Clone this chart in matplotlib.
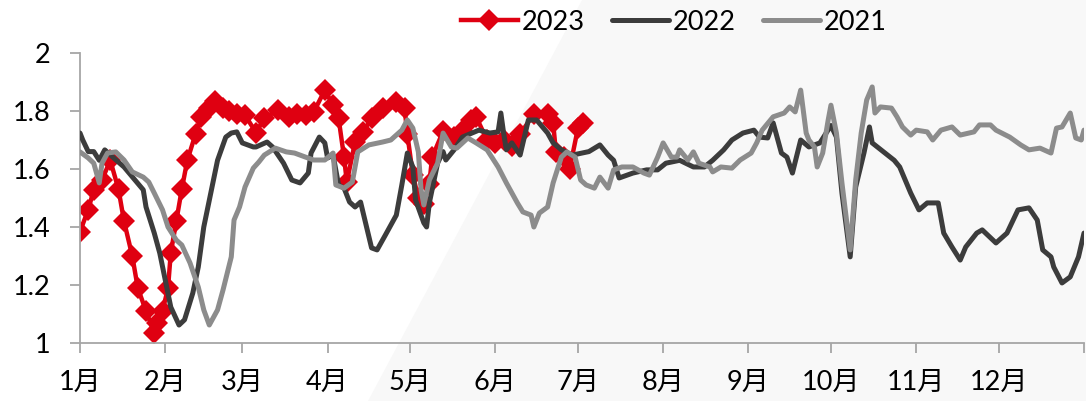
import matplotlib
matplotlib.use("Agg")
import matplotlib.pyplot as plt
from matplotlib.patches import Polygon

# ---------------- data (day of year, value) ----------------
days_2023 = [0, 3, 5, 8, 11, 14, 16, 19, 21, 24, 27, 28, 30, 32, 33, 35, 37, 39, 42, 44,
             47, 49, 52, 54, 57, 60, 64, 67, 72, 76, 79, 82, 85, 89, 92, 94, 96, 97, 100,
             103, 106, 110, 115, 118, 119, 121, 123, 125, 127, 128, 132, 136, 139, 142,
             144, 148, 151, 154, 157, 160, 165, 170, 172, 173, 176, 178, 181, 183]
vals_2023 = [1.384, 1.46, 1.528, 1.562, 1.63, 1.53, 1.42, 1.30, 1.19, 1.11, 1.035, 1.07,
             1.11, 1.19, 1.31, 1.42, 1.53, 1.63, 1.72, 1.78, 1.81, 1.835, 1.81, 1.80, 1.79,
             1.786, 1.725, 1.776, 1.803, 1.78, 1.79, 1.786, 1.797, 1.872, 1.82, 1.776, 1.64,
             1.555, 1.693, 1.728, 1.776, 1.81, 1.83, 1.81, 1.72, 1.58, 1.50, 1.48, 1.55,
             1.64, 1.73, 1.71, 1.73, 1.77, 1.78, 1.70, 1.69, 1.70, 1.68, 1.72, 1.79, 1.79,
             1.76, 1.66, 1.64, 1.60, 1.74, 1.76]

days_2022 = [0, 1, 3, 5, 7, 9, 12, 16, 20, 23, 24, 27, 29, 31, 33, 36, 38, 41, 43, 45,
             48, 50, 53, 55, 57, 59, 63, 64, 68, 70, 74, 77, 80, 83, 84, 87, 89, 90, 92,
             94, 96, 98, 100, 102, 104, 106, 108, 111, 115, 117, 119, 121, 122, 125, 126,
             127, 130, 132, 133, 136, 139, 145, 149, 152, 153, 154, 155, 157, 160, 163,
             166, 170, 172, 175, 179, 185, 189, 192, 194, 196, 201, 206, 210, 213, 218,
             223, 227, 230, 234, 237, 241, 245, 247, 250, 252, 255, 257, 259, 262, 265,
             269, 273, 275, 277, 280, 282, 285, 287, 288, 292, 296, 298, 302, 305, 308,
             312, 314, 317, 320, 322, 326, 328, 333, 337, 341, 345, 348, 350, 353, 354,
             357, 360, 363, 365]
vals_2022 = [1.724, 1.70, 1.66, 1.66, 1.63, 1.666, 1.64, 1.607, 1.562, 1.528, 1.469,
             1.379, 1.31, 1.217, 1.124, 1.062, 1.08, 1.172, 1.262, 1.40, 1.538, 1.63,
             1.71, 1.724, 1.728, 1.69, 1.676, 1.676, 1.693, 1.676, 1.62, 1.562, 1.552,
             1.586, 1.655, 1.71, 1.69, 1.638, 1.648, 1.545, 1.534, 1.486, 1.469, 1.486,
             1.407, 1.328, 1.321, 1.372, 1.441, 1.545, 1.655, 1.607, 1.493, 1.414, 1.40,
             1.483, 1.62, 1.66, 1.631, 1.666, 1.71, 1.734, 1.724, 1.728, 1.793, 1.724,
             1.666, 1.69, 1.648, 1.769, 1.769, 1.724, 1.69, 1.666, 1.648, 1.66, 1.683,
             1.648, 1.63, 1.569, 1.586, 1.597, 1.597, 1.62, 1.63, 1.607, 1.607, 1.63,
             1.666, 1.70, 1.724, 1.734, 1.71, 1.707, 1.759, 1.655, 1.641, 1.586, 1.70,
             1.676, 1.69, 1.75, 1.71, 1.517, 1.297, 1.538, 1.655, 1.745, 1.69, 1.66,
             1.63, 1.607, 1.517, 1.459, 1.483, 1.483, 1.379, 1.331, 1.286, 1.331, 1.379,
             1.39, 1.345, 1.379, 1.459, 1.466, 1.424, 1.321, 1.297, 1.262, 1.207, 1.228,
             1.297, 1.379]

days_2021 = [0, 3, 5, 7, 8, 10, 13, 16, 19, 23, 25, 27, 30, 32, 35, 37, 40, 43, 45, 47,
             50, 52, 55, 56, 58, 60, 63, 65, 67, 71, 75, 78, 82, 85, 89, 92, 93, 96, 99,
             101, 105, 110, 113, 117, 119, 121, 123, 124, 125, 127, 130, 132, 135, 137,
             141, 144, 148, 152, 155, 159, 161, 164, 165, 167, 170, 172, 175, 177, 180,
             182, 184, 187, 189, 192, 194, 197, 201, 205, 207, 210, 212, 215, 217, 218,
             221, 223, 225, 229, 230, 233, 237, 240, 244, 246, 248, 252, 256, 258, 260,
             262, 264, 265, 267, 268, 270, 272, 273, 275, 277, 280, 282, 284, 286, 288,
             289, 291, 295, 297, 299, 302, 304, 308, 310, 313, 317, 320, 325, 327, 331,
             333, 338, 342, 345, 349, 353, 355, 357, 360, 362, 364, 365]
vals_2021 = [1.659, 1.638, 1.62, 1.552, 1.62, 1.655, 1.659, 1.631, 1.59, 1.572, 1.555,
             1.517, 1.459, 1.40, 1.355, 1.338, 1.276, 1.193, 1.114, 1.062, 1.114, 1.183,
             1.297, 1.424, 1.469, 1.538, 1.603, 1.624, 1.648, 1.672, 1.659, 1.655, 1.641,
             1.631, 1.631, 1.655, 1.545, 1.534, 1.555, 1.659, 1.683, 1.693, 1.70, 1.734,
             1.769, 1.741, 1.659, 1.528, 1.476, 1.562, 1.62, 1.724, 1.676, 1.672, 1.707,
             1.69, 1.666, 1.607, 1.552, 1.483, 1.452, 1.441, 1.40, 1.448, 1.469, 1.552,
             1.641, 1.659, 1.641, 1.562, 1.545, 1.534, 1.572, 1.534, 1.597, 1.607, 1.607,
             1.586, 1.579, 1.641, 1.69, 1.641, 1.641, 1.666, 1.631, 1.659, 1.62, 1.607,
             1.59, 1.607, 1.603, 1.631, 1.655, 1.69, 1.734, 1.78, 1.793, 1.814, 1.797,
             1.872, 1.724, 1.70, 1.676, 1.607, 1.655, 1.769, 1.82, 1.724, 1.552, 1.321,
             1.562, 1.724, 1.838, 1.883, 1.793, 1.814, 1.81, 1.78, 1.745, 1.717, 1.734,
             1.728, 1.70, 1.734, 1.745, 1.717, 1.728, 1.752, 1.752, 1.734, 1.71, 1.683,
             1.666, 1.672, 1.655, 1.741, 1.745, 1.793, 1.707, 1.70, 1.734]

month_starts = [0, 31, 59, 90, 120, 151, 181, 212, 243, 273, 304, 334, 365]
month_labels = ["1月", "2月", "3月", "4月", "5月", "6月", "7月", "8月", "9月",
                "10月", "11月", "12月", ""]
y_ticks = [1, 1.2, 1.4, 1.6, 1.8, 2]
y_labels = ["1", "1.2", "1.4", "1.6", "1.8", "2"]

# ---------------- styling ----------------
plt.rcParams['font.family'] = ['Lato', 'Noto Sans CJK SC', 'DejaVu Sans']
W, H = 1086, 401
fig = plt.figure(figsize=(W / 100, H / 100), dpi=100)
fig.patch.set_facecolor('white')

# faint diagonal background band (as in the reference)
band = Polygon([[582 / W, 1.0], [1.0, 1.0], [1.0, 0.0], [368 / W, 0.0]],
               closed=True, transform=fig.transFigure, facecolor='#f8f8f8',
               edgecolor='none', zorder=-5)
fig.patches.append(band)

ax = fig.add_axes([80 / W, 1 - 343 / H, 1004 / W, 290 / H])
ax.set_facecolor('none')
ax.set_zorder(2)

red = '#df0011'
dark = '#3c3c3c'
light = '#8c8c8c'

ax.plot(days_2023, vals_2023, color=red, lw=3.2, marker='D', markersize=11,
        markeredgewidth=0, label='2023', zorder=2, solid_joinstyle='round')
ax.plot(days_2022, vals_2022, color=dark, lw=3.6, label='2022', zorder=3,
        solid_joinstyle='round', solid_capstyle='round')
ax.plot(days_2021, vals_2021, color=light, lw=3.6, label='2021', zorder=4,
        solid_joinstyle='round', solid_capstyle='round')

ax.set_xlim(0, 365)
ax.set_ylim(1, 2)
ax.set_xticks(month_starts)
ax.set_xticklabels(month_labels)
ax.set_yticks(y_ticks)
ax.set_yticklabels(y_labels)

for s in ['top', 'right']:
    ax.spines[s].set_visible(False)
for s in ['left', 'bottom']:
    ax.spines[s].set_color('#a6a6a6')
    ax.spines[s].set_linewidth(1.3)

ax.tick_params(axis='both', direction='out', length=7, width=1.3, color='#a6a6a6',
               labelsize=19.5, labelcolor='black')
ax.tick_params(axis='x', pad=12)
ax.tick_params(axis='y', pad=14)

leg = fig.legend(loc='center', bbox_to_anchor=(674 / W, 1 - 22 / H), ncol=3,
                 frameon=False, fontsize=19.5, handlelength=2.1, handletextpad=0.15,
                 columnspacing=1.0, borderpad=0, borderaxespad=0)

fig.savefig('out.png', dpi=100, facecolor='white')
